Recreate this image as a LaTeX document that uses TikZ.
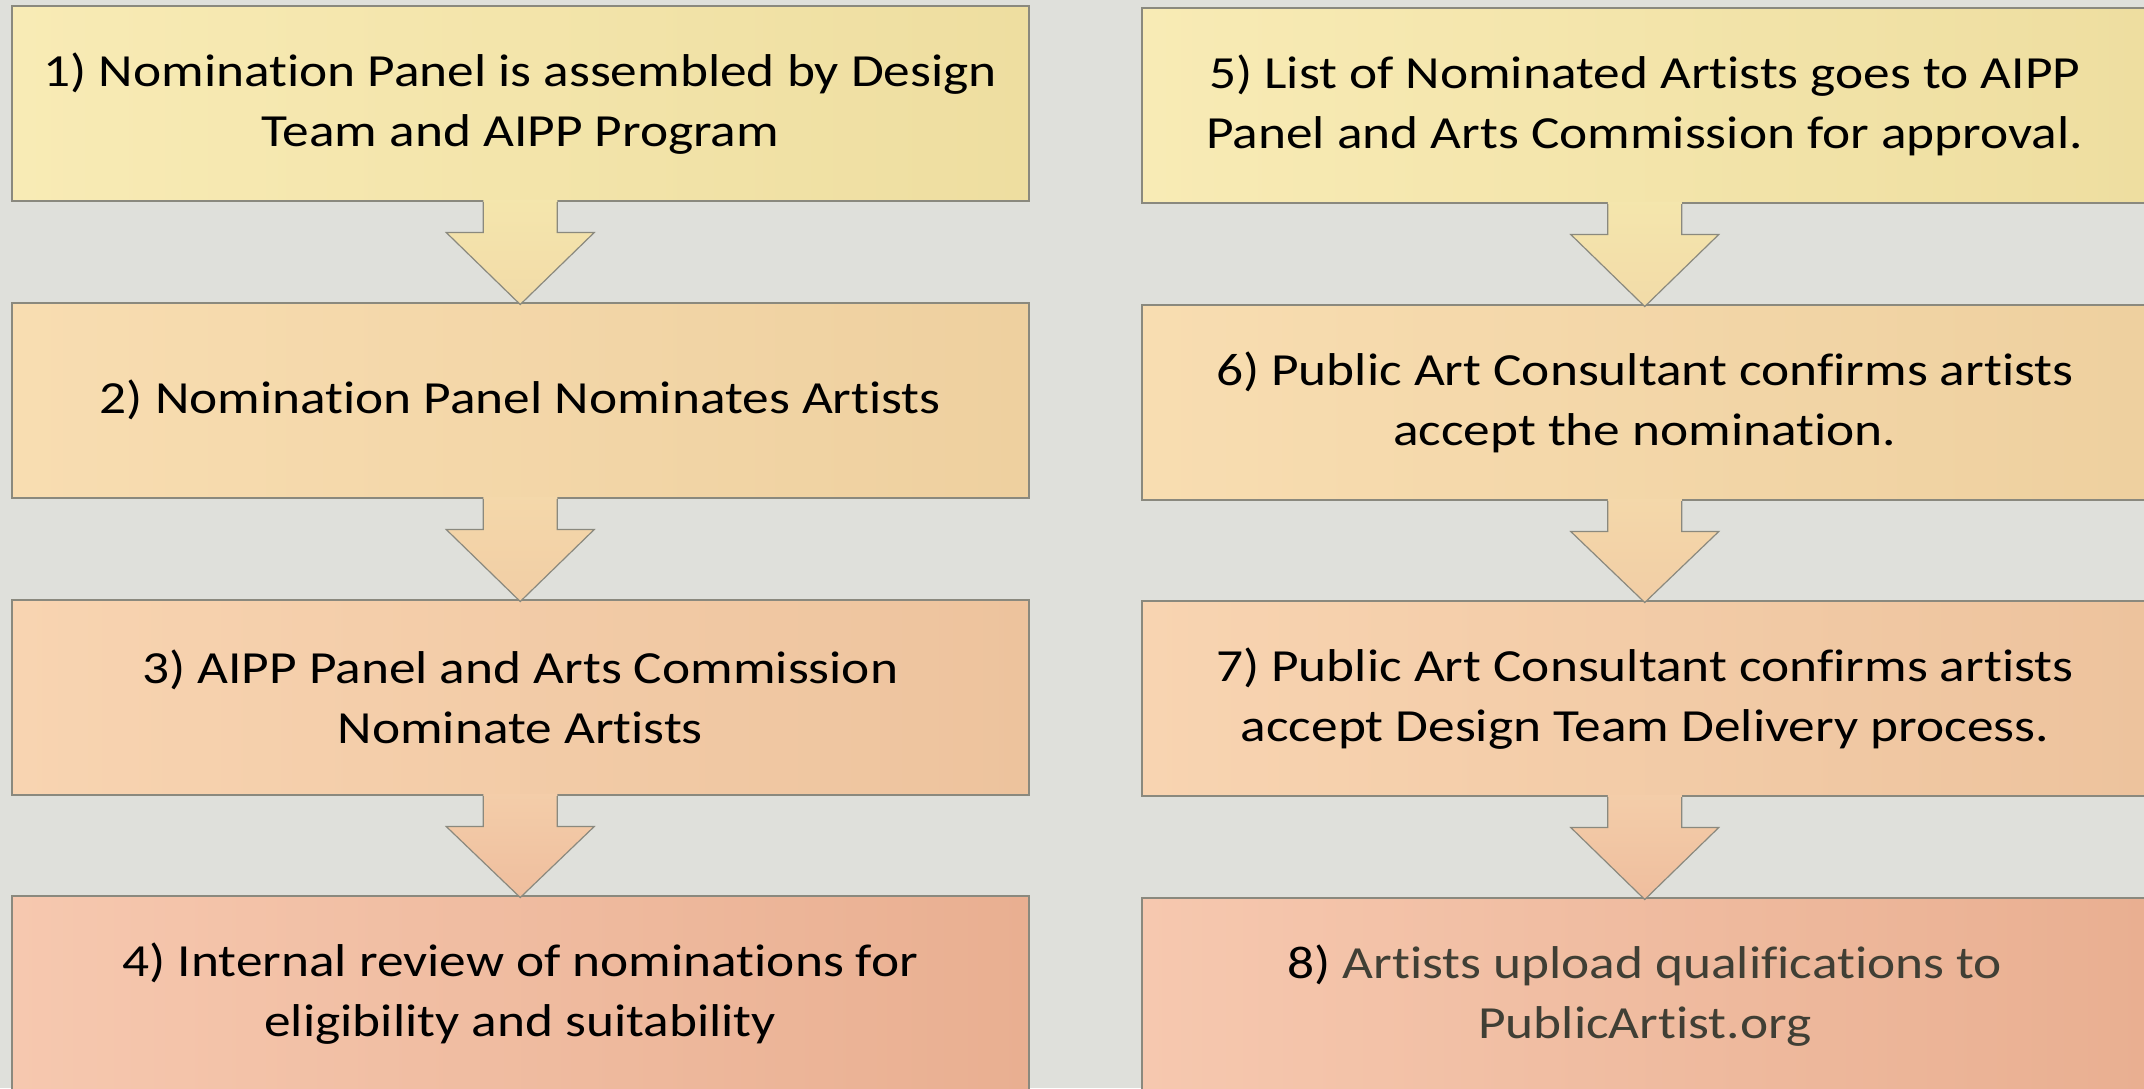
\documentclass[tikz,border=0pt]{standalone}
\usepackage{fontspec}
\setmainfont{Carlito}[FakeStretch=1.16, Ligatures=NoCommon]
\usetikzlibrary{calc}
\definecolor{bg}{HTML}{DFE0DB}
\definecolor{boxline}{HTML}{8A897E}
\definecolor{aL}{HTML}{F8EBB5}\definecolor{aR}{HTML}{EEDEA0}
\definecolor{bL}{HTML}{F8DDB1}\definecolor{bR}{HTML}{EED09F}
\definecolor{cL}{HTML}{F8D4B1}\definecolor{cR}{HTML}{EDC39D}
\definecolor{dL}{HTML}{F6C8AF}\definecolor{dR}{HTML}{E9AF91}
\definecolor{txtg}{HTML}{403F35}
\newcommand\blockarrow[4]{%
  \shade[top color=#3, bottom color=#4]
    ($(#1.south)+(-37,-2)$) -- ($(#1.south)+(-37,31)$) -- ($(#1.south)+(-74,31)$)
    -- ($(#2.north)+(0,2.5)$) -- ($(#1.south)+(74,31)$) -- ($(#1.south)+(37,31)$)
    -- ($(#1.south)+(37,-2)$) -- cycle;
  \draw[arrowline]
    ($(#1.south)+(-37,0.5)$) -- ($(#1.south)+(-37,31)$) -- ($(#1.south)+(-74,31)$)
    -- ($(#2.north)+(0,2.5)$) -- ($(#1.south)+(74,31)$) -- ($(#1.south)+(37,31)$)
    -- ($(#1.south)+(37,0.5)$);
}
\begin{document}
\begin{tikzpicture}[x=1pt,y=-1pt,
  stepbox/.style={draw=boxline, line width=1.5pt, anchor=north west,
    minimum width=1017pt, minimum height=195pt, inner sep=0pt,
    align=center, text=black, font=\fontsize{46}{60}\selectfont},
  rbox/.style={stepbox, minimum width=1006pt},
  boxA/.style={left color=aL, right color=aR},
  boxB/.style={left color=bL, right color=bR},
  boxC/.style={left color=cL, right color=cR},
  boxD/.style={left color=dL, right color=dR},
  arrowline/.style={draw=boxline, line width=1.2pt, line join=miter}]
\useasboundingbox (0,0) rectangle (2144,1088);
\clip (0,0) rectangle (2144,1088);
\fill[bg] (0,0) rectangle (2144,1088);

% left column
\node[stepbox, boxA] (b1) at (11,5) {1) Nomination Panel is assembled by Design\\Team and AIPP Program};
\node[stepbox, boxB] (b2) at (11,302) {2) Nomination Panel Nominates Artists};
\node[stepbox, boxC] (b3) at (11,599) {3) AIPP Panel and Arts Commission\\Nominate Artists};
\node[stepbox, boxD] (b4) at (11,895) {4) Internal review of nominations for\\eligibility and suitability};

% right column
\node[rbox, boxA] (b5) at (1141,7) {5) List of Nominated Artists goes to AIPP\\Panel and Arts Commission for approval.};
\node[rbox, boxB] (b6) at (1141,304) {6) Public Art Consultant confirms artists\\accept the nomination.};
\node[rbox, boxC] (b7) at (1141,600) {7) Public Art Consultant confirms artists\\accept Design Team Delivery process.};
\node[rbox, boxD] (b8) at (1141,897) {8) \textcolor{txtg}{Artists upload qualifications to}\\\textcolor{txtg}{PublicArtist.org}};

% block arrows
\blockarrow{b1}{b2}{aL!60!aR}{aL!40!bR}
\blockarrow{b2}{b3}{bL!60!bR}{bL!40!cR}
\blockarrow{b3}{b4}{cL!60!cR}{cL!40!dR}
\blockarrow{b5}{b6}{aL!60!aR}{aL!40!bR}
\blockarrow{b6}{b7}{bL!60!bR}{bL!40!cR}
\blockarrow{b7}{b8}{cL!60!cR}{cL!40!dR}
\end{tikzpicture}
\end{document}
